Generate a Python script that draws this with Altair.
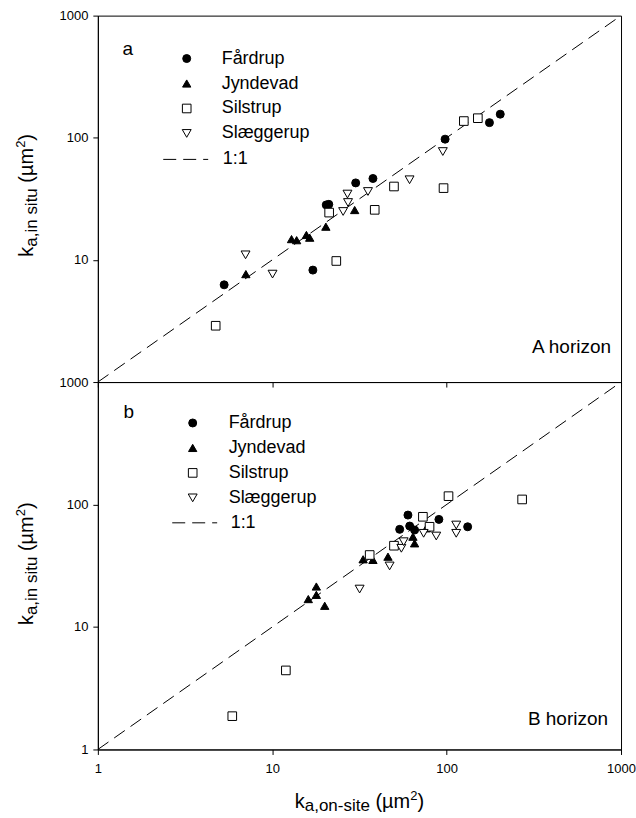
import altair as alt
import pandas as pd

sites = ["Fårdrup", "Jyndevad", "Silstrup", "Slæggerup"]

# ---- Panel a : A horizon (k_a,on-site , k_a,in situ) ----
fardrup_a_x = [5.3, 17.1, 20.4, 21.1, 30.1, 37.8, 98, 176, 203]
fardrup_a_y = [6.25, 8.25, 28.2, 28.5, 42.7, 46.4, 97.4, 133, 156]
jyndevad_a_x = [7.06, 12.9, 13.8, 15.7, 16.4, 20.3, 29.7]
jyndevad_a_y = [7.65, 14.8, 14.5, 16.0, 15.2, 18.7, 25.6]
silstrup_a_x = [4.74, 21.2, 23.3, 38.7, 49.9, 96, 125.5, 151]
silstrup_a_y = [2.89, 24.4, 9.8, 25.7, 39.9, 38.7, 137, 144.6]
slaeggerup_a_x = [7.03, 10.04, 25.5, 27.2, 27.0, 35.4, 61.3, 95.1]
slaeggerup_a_y = [11.0, 7.65, 24.9, 29.5, 34.6, 36.3, 45.3, 77.1]

# ---- Panel b : B horizon ----
fardrup_b_x = [60, 53.8, 61.4, 65.5, 90.3, 132]
fardrup_b_y = [82, 62.7, 66.7, 61.9, 75.6, 65.8]
jyndevad_b_x = [16.1, 17.9, 17.9, 20.0, 33.2, 37.8, 46.1, 64.1, 65.5, 76.4]
jyndevad_b_y = [16.9, 21.4, 18.3, 14.9, 35.7, 35.3, 37.5, 54.6, 48.2, 63.9]
silstrup_b_x = [5.9, 11.97, 36.2, 49.9, 73.1, 79.8, 102.5, 271]
silstrup_b_y = [1.87, 4.42, 38.7, 46.1, 79.4, 65.8, 117, 110]
slaeggerup_b_x = [31.7, 47.1, 55, 56.7, 73.8, 87.2, 113.5, 113.5]
slaeggerup_b_y = [20.4, 31.5, 43.9, 49.7, 58.2, 55.3, 68, 58.2]

tick_values = [1, 10, 100, 1000]
one_to_one = [1, 1000]

rows = []
def add(panel, site, xs, ys):
    for x, y in zip(xs, ys):
        rows.append({"panel": panel, "site": site, "x": x, "y": y})

add("a", sites[0], fardrup_a_x, fardrup_a_y)
add("a", sites[1], jyndevad_a_x, jyndevad_a_y)
add("a", sites[2], silstrup_a_x, silstrup_a_y)
add("a", sites[3], slaeggerup_a_x, slaeggerup_a_y)
add("b", sites[0], fardrup_b_x, fardrup_b_y)
add("b", sites[1], jyndevad_b_x, jyndevad_b_y)
add("b", sites[2], silstrup_b_x, silstrup_b_y)
add("b", sites[3], slaeggerup_b_x, slaeggerup_b_y)
df = pd.DataFrame(rows)
line_df = pd.DataFrame({"x": one_to_one, "y": one_to_one, "lab": ["1:1", "1:1"]})
one = pd.DataFrame({"d": [0]})

FONT = "Liberation Sans"
W = 524
H_TOP = 367
H_BOT = 368

# Arial / Liberation Sans advance widths (per 1000 em) for title layout
AW = {' ': 278, '(': 333, ')': 333, ',': 278, '-': 333, '2': 556, 'a': 556, 'e': 556,
      'i': 222, 'k': 500, 'm': 833, 'n': 556, 'o': 556, 's': 500, 't': 278, 'u': 556, 'µ': 576}

def tw(s, size):
    return sum(AW.get(c, 556) for c in s) * size / 1000.0

def txt(t, x, y, size, align="left", baseline="alphabetic", angle=0):
    kw = dict(text=t, font=FONT, fontSize=size, align=align, baseline=baseline, color="black")
    if angle:
        kw["angle"] = angle
    return alt.Chart(one).mark_text(**kw).encode(x=alt.value(x), y=alt.value(y))

def rich_pieces(sub, sub_shift):
    return [("k", 20, 0, 0), (sub, 17, sub_shift, 0), ("(µm", 20, 0, tw(" ", 20)),
            ("2", 13, -8, 0), (")", 20, 0, 0)]

def y_title(center_y, base_x):
    pieces = rich_pieces("a,in situ", 4)
    total = sum(tw(t, s) + g for t, s, _, g in pieces)
    y = center_y + total / 2
    out = []
    for t, s, sh, g in pieces:
        y -= g
        out.append(txt(t, base_x + sh, y, s, angle=270))
        y -= tw(t, s)
    return out

def x_title(center_x, base_y):
    pieces = rich_pieces("a,on-site", 3)
    total = sum(tw(t, s) + g for t, s, _, g in pieces)
    x = center_x - total / 2
    out = []
    for t, s, sh, g in pieces:
        x += g
        out.append(txt(t, x, base_y + sh, s))
        x += tw(t, s)
    return out

shape_scale = alt.Scale(domain=sites, range=["circle", "triangle-up", "square", "triangle-down"])
fill_scale = alt.Scale(domain=sites, range=["black", "black", "white", "white"])
stroke_scale = alt.Scale(domain=sites, range=["black", "black", "black", "black"])
size_scale = alt.Scale(domain=sites, range=[64, 80, 45, 60])

def panel(name, h, show_x_labels, y_vals, tag, tag_pos, horizon, hor_pos,
          leg_pos, leg_off, dash_pos, dash_off, title_center, with_x_title):
    xs = alt.Scale(type="log", domain=[1, 1000], nice=False)
    ys = alt.Scale(type="log", domain=[1, 1000], nice=False)
    x_axis = alt.Axis(values=tick_values, format="d", labels=show_x_labels, title=None,
                      tickSize=5, labelPadding=8, grid=False, labelFlush=False)
    y_axis = alt.Axis(values=y_vals, format="d", title=None, tickSize=5, labelPadding=5,
                      grid=False, labelFlush=False)
    leg = alt.Legend(title=None, orient="none", legendX=leg_pos[0], legendY=leg_pos[1],
                     labelFont=FONT, labelFontSize=18, labelColor="black",
                     symbolStrokeColor="black", symbolStrokeWidth=1, rowPadding=7,
                     padding=0, labelOffset=leg_off, symbolOpacity=1)
    dleg = alt.Legend(title=None, orient="none", legendX=dash_pos[0], legendY=dash_pos[1],
                      labelFont=FONT, labelFontSize=18, labelColor="black",
                      symbolType="stroke", symbolSize=2025, symbolStrokeColor="black",
                      symbolStrokeWidth=1, padding=0, labelOffset=dash_off)
    line = alt.Chart(line_df).mark_line(color="black", strokeWidth=1).encode(
        x=alt.X("x:Q", scale=xs, axis=x_axis),
        y=alt.Y("y:Q", scale=ys, axis=y_axis),
        strokeDash=alt.StrokeDash("lab:N", scale=alt.Scale(domain=["1:1"], range=[[13, 7]]), legend=dleg),
    )
    pts = alt.Chart(df[df.panel == name]).mark_point(
        filled=True, strokeWidth=1, opacity=1
    ).encode(
        x=alt.X("x:Q", scale=xs, axis=x_axis),
        y=alt.Y("y:Q", scale=ys, axis=y_axis),
        shape=alt.Shape("site:N", scale=shape_scale, legend=leg),
        fill=alt.Fill("site:N", scale=fill_scale, legend=leg),
        stroke=alt.Stroke("site:N", scale=stroke_scale, legend=leg),
        size=alt.Size("site:N", scale=size_scale, legend=leg),
    )
    layers = [line, pts,
              txt(tag, tag_pos[0], tag_pos[1], 19, align="center", baseline="middle"),
              txt(horizon, hor_pos[0], hor_pos[1], 19, align="right", baseline="middle")]
    layers += y_title(title_center, -65)
    if with_x_title:
        layers += x_title(W / 2, 427)
    return alt.layer(*layers).properties(width=W, height=h)

top = panel("a", H_TOP, False, [10, 100, 1000], "a", (30, 33), "A horizon", (514, 332),
            (80, 34), 26, (65, 121), 14, 180, False)
bot = panel("b", H_BOT, True, [1, 10, 100, 1000], "b", (31, 30), "B horizon", (511, 337),
            (86, 32), 27, (74, 118), 13, 182, True)

chart = alt.vconcat(top, bot, spacing=0, bounds="flush").resolve_scale(
    shape="independent", fill="independent", stroke="independent", size="independent",
    strokeDash="independent"
).resolve_legend(
    shape="independent", fill="independent", stroke="independent", size="independent",
    strokeDash="independent"
).configure_axis(
    labelFont=FONT, labelFontSize=13, labelColor="black", tickColor="black",
    domainColor="black", grid=False
).configure_view(stroke="black", strokeWidth=1).properties(
    padding={"left": 14, "top": 8, "right": 0, "bottom": 0}, background="white"
)

chart.save("out.html", embed_options={"renderer": "svg", "actions": False})
